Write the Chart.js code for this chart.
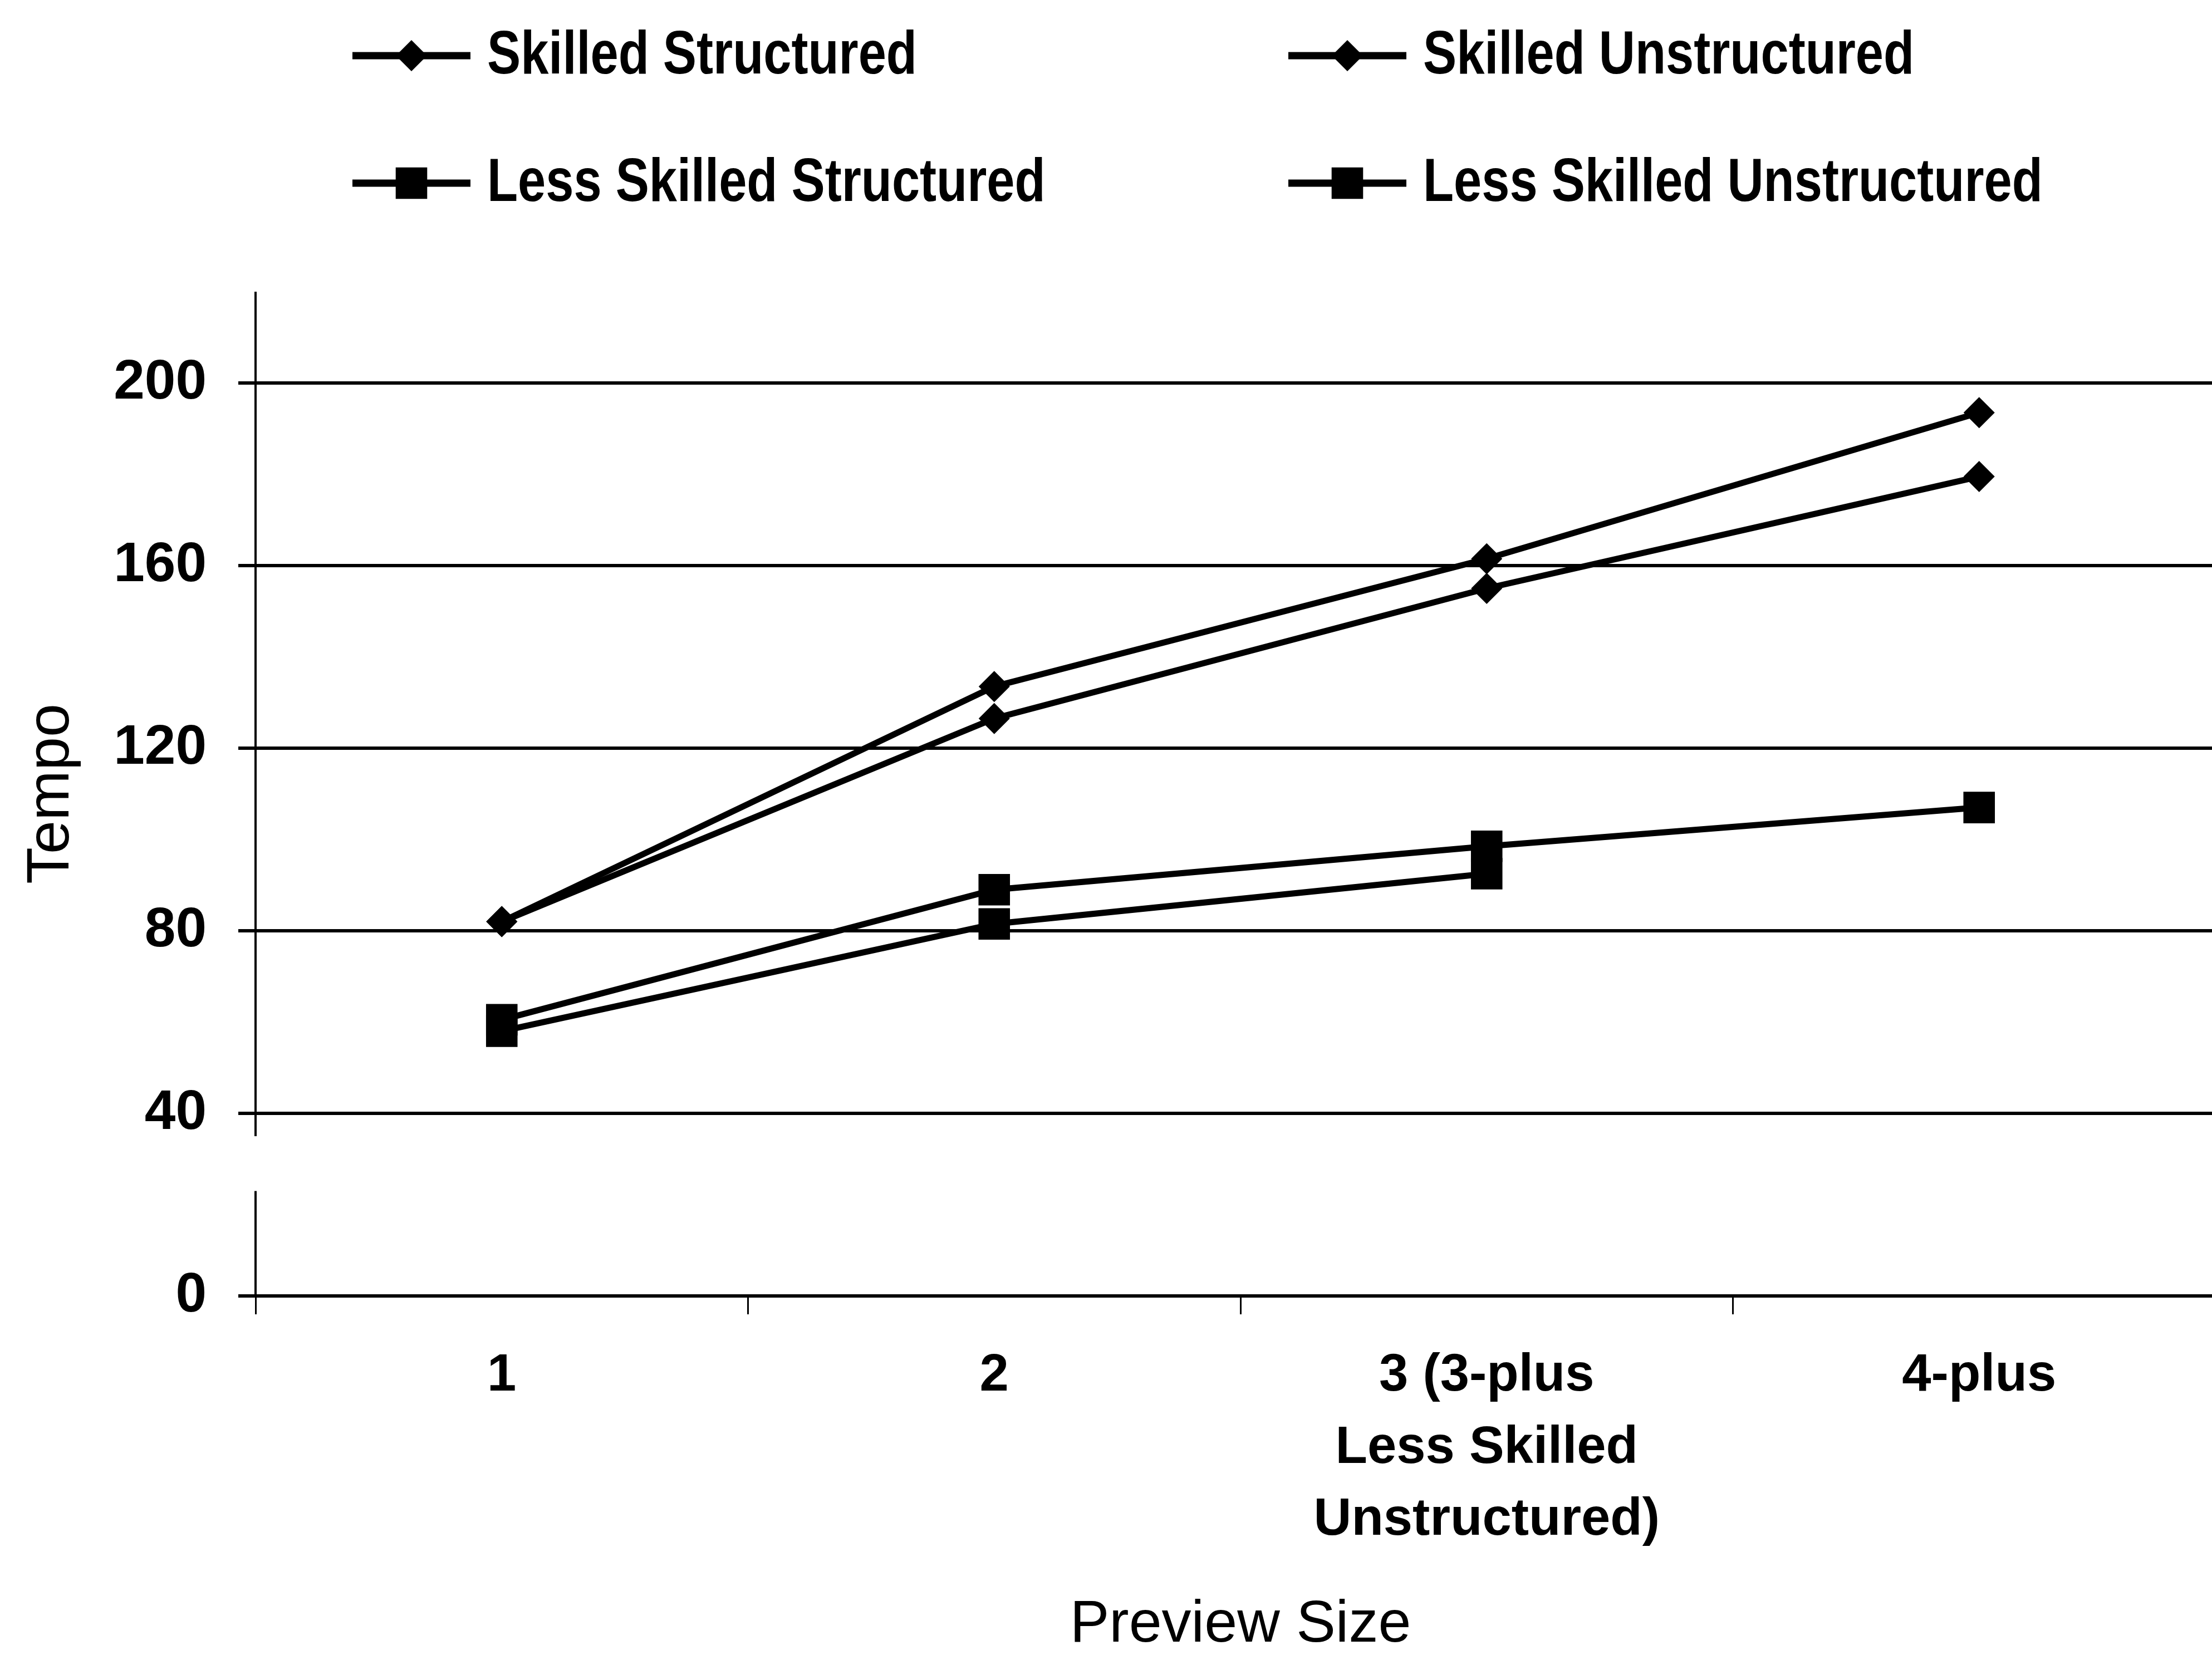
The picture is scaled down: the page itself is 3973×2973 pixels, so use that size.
<!DOCTYPE html>
<html>
<head>
<meta charset="utf-8">
<script src="https://cdn.jsdelivr.net/npm/chart.js@4"></script>
<style>
  html, body { margin: 0; padding: 0; background: #fff; overflow: hidden; }
  canvas { display: block; }
</style>
</head>
<body>
<canvas id="tempoChart" width="4037" height="2973"></canvas>
<script>
// categories and series
const categories = ['1', '2', ['3 (3-plus', 'Less Skilled', 'Unstructured)'], '4-plus'];
const skilledStructured = [82, 133.5, 161.5, 193.5];
const skilledUnstructured = [82, 126.5, 155, 179.5];
const lessSkilledStructured = [60.5, 89, 98.5, 107];
const lessSkilledUnstructured = [58, 81.5, 92.5, null];
const yTicks = [0, 40, 80, 120, 160, 200];

const SANS = "'Liberation Sans', Arial, sans-serif";

function series(label, data, style, radius) {
  return {
    label: label,
    data: data,
    borderColor: '#000',
    backgroundColor: '#000',
    borderWidth: 11,
    pointStyle: style,
    pointRadius: radius,
    pointBorderWidth: 0,
    pointBackgroundColor: '#000',
    tension: 0,
    spanGaps: false
  };
}

// legend in two columns: line - marker - line, then condensed bold text
const legendGrid = {
  id: 'legendGrid',
  afterDraw(chart) {
    const ctx = chart.ctx;
    const cols = [633, 2314];
    const rows = [100, 329];
    ctx.save();
    chart.data.datasets.forEach((ds, i) => {
      const x = cols[i % 2];
      const y = rows[Math.floor(i / 2)];
      ctx.strokeStyle = '#000';
      ctx.lineWidth = 13;
      ctx.beginPath();
      ctx.moveTo(x, y);
      ctx.lineTo(x + 212, y);
      ctx.stroke();
      ctx.fillStyle = '#000';
      Chart.helpers.drawPoint(ctx, { pointStyle: ds.pointStyle, radius: ds.pointRadius, borderWidth: 0, rotation: 0 }, x + 106, y);
      ctx.save();
      ctx.translate(x + 242, y + 2);
      ctx.scale(0.82, 1);
      ctx.font = 'bold 110px ' + SANS;
      ctx.textBaseline = 'middle';
      ctx.textAlign = 'left';
      ctx.fillText(ds.label, 0, 0);
      ctx.restore();
    });
    ctx.restore();
  }
};

// left axis drawn with a break between 0 and 40
const brokenAxis = {
  id: 'brokenAxis',
  beforeDatasetsDraw(chart) {
    const ctx = chart.ctx;
    const y = chart.scales.y;
    const x = chart.chartArea.left;
    ctx.save();
    ctx.strokeStyle = '#000';
    ctx.lineWidth = 4;
    ctx.beginPath();
    ctx.moveTo(x, chart.chartArea.top);
    ctx.lineTo(x, y.getPixelForValue(35));
    ctx.moveTo(x, y.getPixelForValue(23));
    ctx.lineTo(x, chart.chartArea.bottom);
    ctx.stroke();
    ctx.restore();
  }
};

new Chart(document.getElementById('tempoChart'), {
  type: 'line',
  data: {
    labels: categories,
    datasets: [
      series('Skilled Structured', skilledStructured, 'rectRot', 28),
      series('Skilled Unstructured', skilledUnstructured, 'rectRot', 28),
      series('Less Skilled Structured', lessSkilledStructured, 'rect', 40),
      series('Less Skilled Unstructured', lessSkilledUnstructured, 'rect', 40)
    ]
  },
  options: {
    responsive: false,
    animation: false,
    layout: { padding: { top: 524, right: 0, bottom: 0, left: 0 } },
    plugins: {
      legend: { display: false },
      tooltip: { enabled: false }
    },
    scales: {
      x: {
        offset: true,
        afterFit: function(scale) { scale.height = 645; },
        grid: {
          offset: true,
          drawOnChartArea: false,
          drawTicks: true,
          tickLength: 33,
          color: '#000',
          lineWidth: 3
        },
        border: { display: true, color: '#000', width: 6 },
        ticks: {
          color: '#000',
          padding: 46,
          maxRotation: 0,
          autoSkip: false,
          font: { family: SANS, size: 94, weight: 'bold', lineHeight: 1.38 }
        },
        title: {
          display: true,
          text: 'Preview Size',
          color: '#000',
          padding: { top: 70, bottom: 0 },
          font: { family: SANS, size: 106, lineHeight: 1.0 }
        }
      },
      y: {
        min: 0,
        max: 220,
        afterFit: function(scale) { scale.width = 459; },
        afterBuildTicks: function(scale) {
          scale.ticks = yTicks.map(v => ({ value: v }));
        },
        grid: {
          color: '#000',
          lineWidth: 6,
          drawTicks: true,
          tickLength: 31
        },
        border: { display: false },
        ticks: {
          color: '#000',
          padding: 57,
          font: { family: SANS, size: 100, weight: 'bold' }
        },
        title: {
          display: true,
          text: 'Tempo',
          color: '#000',
          padding: { top: 39, bottom: 0 },
          font: { family: SANS, size: 108, lineHeight: 1.0 }
        }
      }
    }
  },
  plugins: [legendGrid, brokenAxis]
});
</script>
</body>
</html>
